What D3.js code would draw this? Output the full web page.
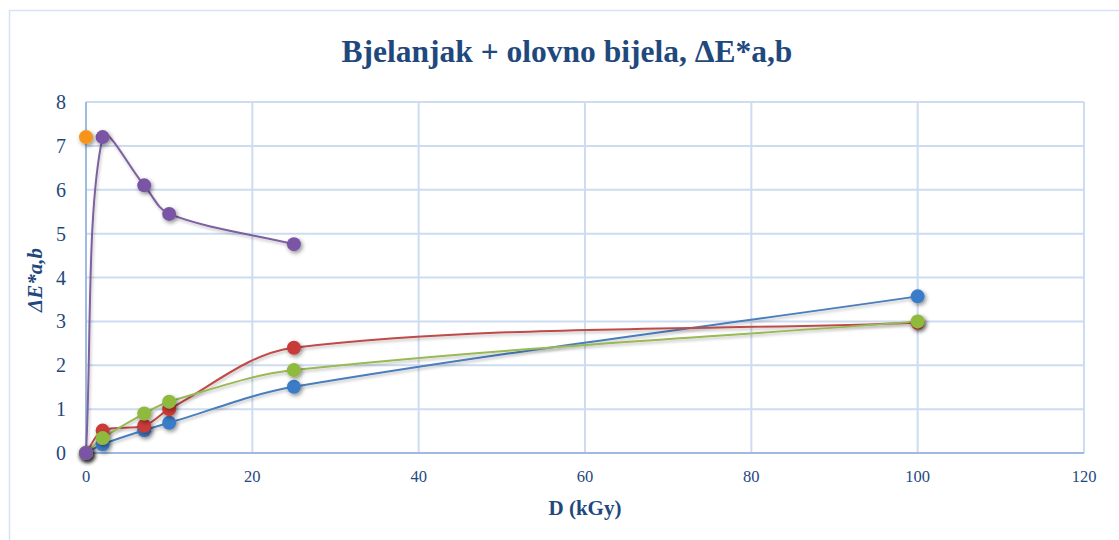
<!DOCTYPE html>
<html>
<head>
<meta charset="utf-8">
<script src="https://cdn.jsdelivr.net/npm/d3@7"></script>
<style>
  body { margin: 0; background: #fff; }
  text { font-family: "Liberation Serif", "Times New Roman", serif; }
</style>
</head>
<body>
<div id="chart"></div>
<script>
// x values (kGy)
const doses = [0, 2, 7, 10, 25, 100];
const dosesShort = [0, 2, 7, 10, 25];

const blueVals   = [0, 0.20, 0.52, 0.69, 1.51, 3.57];
const redVals    = [0, 0.51, 0.62, 1.00, 2.40, 2.97];
const greenVals  = [0, 0.34, 0.90, 1.17, 1.89, 3.00];
const purpleVals = [0, 7.20, 6.10, 5.45, 4.76];
const orangeDose = [0];
const orangeVals = [7.20];

const xTicks = [0, 20, 40, 60, 80, 100, 120];
const yTicks = [0, 1, 2, 3, 4, 5, 6, 7, 8];

const series = [
  {name: "blue",   x: doses,      y: blueVals,   line: "#4a7ebb", dot: "#3b7bc8"},
  {name: "red",    x: doses,      y: redVals,    line: "#be4b48", dot: "#c93a37"},
  {name: "green",  x: doses,      y: greenVals,  line: "#98b954", dot: "#8fba3c"},
  {name: "purple", x: dosesShort, y: purpleVals, line: "#7d60a0", dot: "#7a55a6"},
  {name: "orange", x: orangeDose, y: orangeVals, line: "#f79646", dot: "#f7941e"}
];

const W = 1119, H = 540;
const svg = d3.select("#chart").append("svg")
  .attr("width", W).attr("height", H);

// drop shadow for markers
const defs = svg.append("defs");
const f = defs.append("filter").attr("id", "shadow")
  .attr("x", "-50%").attr("y", "-50%").attr("width", "200%").attr("height", "200%");
f.append("feDropShadow").attr("dx", 1.5).attr("dy", 2).attr("stdDeviation", 2)
  .attr("flood-color", "#000").attr("flood-opacity", 0.45);
const fl = defs.append("filter").attr("id", "lshadow")
  .attr("x", "-10%").attr("y", "-10%").attr("width", "120%").attr("height", "120%");
fl.append("feDropShadow").attr("dx", 1).attr("dy", 2).attr("stdDeviation", 1.5)
  .attr("flood-color", "#000").attr("flood-opacity", 0.25);

// outer chart frame
svg.append("rect")
  .attr("x", 9.5).attr("y", 10.5).attr("width", 1200).attr("height", 600)
  .attr("fill", "none").attr("stroke", "#d5e2f3").attr("stroke-width", 1.5);

const x = d3.scaleLinear().domain([0, 120]).range([86, 1084]);
const y = d3.scaleLinear().domain([0, 8]).range([453, 102]);

const textColor = "#1f497d";
const gridColor = "#cddcf0";

const g = svg.append("g");

// gridlines
g.append("g").selectAll("line").data(yTicks).enter().append("line")
  .attr("x1", x(0)).attr("x2", x(120))
  .attr("y1", d => y(d)).attr("y2", d => y(d))
  .attr("stroke", gridColor).attr("stroke-width", 2);
g.append("g").selectAll("line").data(xTicks).enter().append("line")
  .attr("y1", y(0)).attr("y2", y(8))
  .attr("x1", d => x(d)).attr("x2", d => x(d))
  .attr("stroke", gridColor).attr("stroke-width", 2);

// axis lines
g.append("line").attr("x1", x(0)).attr("x2", x(120)).attr("y1", y(0)).attr("y2", y(0))
  .attr("stroke", "#9dbbe0").attr("stroke-width", 2);
g.append("line").attr("x1", x(0)).attr("x2", x(0)).attr("y1", y(0)).attr("y2", y(8))
  .attr("stroke", "#9dbbe0").attr("stroke-width", 2);

// tick labels
g.append("g").selectAll("text").data(yTicks).enter().append("text")
  .attr("x", 66).attr("y", d => y(d)).attr("dy", "0.35em")
  .attr("text-anchor", "end").attr("font-size", 20).attr("fill", textColor)
  .text(d => d);
g.append("g").selectAll("text").data(xTicks).enter().append("text")
  .attr("x", d => x(d)).attr("y", 482)
  .attr("text-anchor", "middle").attr("font-size", 16.5).attr("fill", textColor)
  .text(d => d);

// titles
svg.append("text").attr("x", 567).attr("y", 62).attr("text-anchor", "middle")
  .attr("font-size", 31.5).attr("font-weight", "bold").attr("fill", textColor)
  .text("Bjelanjak + olovno bijela, ΔE*a,b");
svg.append("text").attr("x", 585).attr("y", 515).attr("text-anchor", "middle")
  .attr("font-size", 21).attr("font-weight", "bold").attr("fill", textColor)
  .text("D (kGy)");
svg.append("text").attr("transform", "translate(42,280) rotate(-90)")
  .attr("text-anchor", "middle")
  .attr("font-size", 21).attr("font-weight", "bold").attr("font-style", "italic")
  .attr("fill", textColor)
  .text("ΔE*a,b");

// excel-like smoothing: bezier handles scaled by each segment's own length
function smoothPath(pts) {
  const p = d3.path();
  const n = pts.length;
  const dist = (a, b) => Math.hypot(b[0] - a[0], b[1] - a[1]);
  p.moveTo(pts[0][0], pts[0][1]);
  for (let i = 0; i < n - 1; i++) {
    const a = pts[i], b = pts[i + 1];
    const L = dist(a, b);
    let c1, c2;
    if (i === 0) {
      c1 = [a[0] + (b[0] - a[0]) / 3, a[1] + (b[1] - a[1]) / 3];
    } else {
      const pr = pts[i - 1], k = L / (dist(pr, a) + L) / 3;
      c1 = [a[0] + (b[0] - pr[0]) * k, a[1] + (b[1] - pr[1]) * k];
    }
    if (i === n - 2) {
      c2 = [b[0] - (b[0] - a[0]) / 3, b[1] - (b[1] - a[1]) / 3];
    } else {
      const nx = pts[i + 2], k = L / (dist(b, nx) + L) / 3;
      c2 = [b[0] - (nx[0] - a[0]) * k, b[1] - (nx[1] - a[1]) * k];
    }
    p.bezierCurveTo(c1[0], c1[1], c2[0], c2[1], b[0], b[1]);
  }
  return p.toString();
}

// lines
const plot = svg.append("g");
series.forEach(s => {
  const pts = s.x.map((v, i) => [x(v), y(s.y[i])]);
  if (pts.length > 1) {
    plot.append("path").attr("d", smoothPath(pts))
      .attr("fill", "none").attr("stroke", s.line).attr("stroke-width", 2)
      .attr("filter", "url(#lshadow)");
  }
});
// markers
series.forEach(s => {
  const pts = s.x.map((v, i) => [v, s.y[i]]);
  plot.append("g").selectAll("circle").data(pts).enter().append("circle")
    .attr("cx", d => x(d[0])).attr("cy", d => y(d[1])).attr("r", 7)
    .attr("fill", s.dot).attr("filter", "url(#shadow)");
});
</script>
</body>
</html>
